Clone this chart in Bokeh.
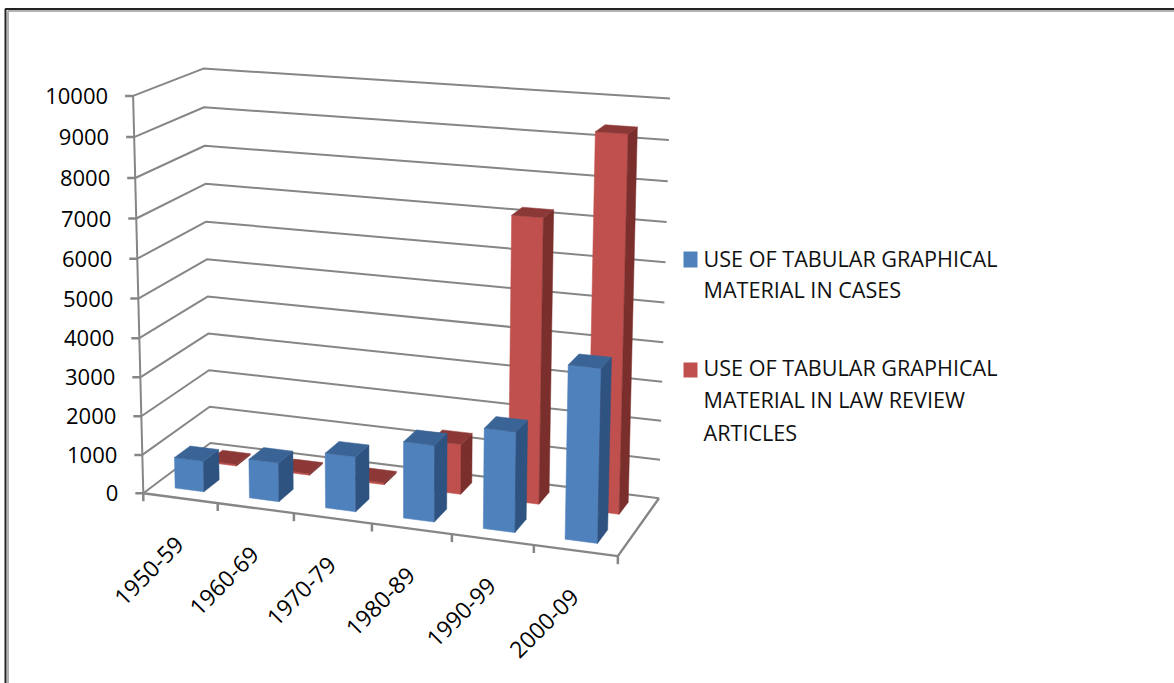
import numpy as np
from bokeh.plotting import figure
from bokeh.models import Range1d
from bokeh.core.properties import value
from bokeh.embed import file_html
from bokeh.resources import INLINE

categories = ["1950-59", "1960-69", "1970-79", "1980-89", "1990-99", "2000-09"]
cases = [800, 1000, 1400, 1930, 2500, 4270]
law_reviews = [40, 40, 50, 1300, 7200, 9370]
value_ticks = [0, 1000, 2000, 3000, 4000, 5000, 6000, 7000, 8000, 9000, 10000]
legend_cases = ["USE OF TABULAR GRAPHICAL", "MATERIAL IN CASES"]
legend_law = ["USE OF TABULAR GRAPHICAL", "MATERIAL IN LAW REVIEW", "ARTICLES"]
VMAX = 10000
FONT = value("Open Sans")

# Camera of the 3-D chart: (category, depth, value) <-> page position
CAL = [
    (0, 0, 0, 143, 492), (6, 0, 0, 617, 556), (0, 1, 0, 210, 443), (6, 1, 0, 658, 498),
    (0, 0, VMAX, 132, 96), (0, 1, VMAX, 203, 68), (6, 1, VMAX, 670, 99),
    (0, 0, 5000, 138, 297), (3, 0, 0, 372, 524), (0, 1, 5000, 206, 259), (6, 1, 5000, 664, 300),
]
rows = []
for c, d, v, x, y in CAL:
    P = [c, d, v / VMAX, 1]
    rows.append(P + [0, 0, 0, 0] + [-x / 1000 * a for a in P])
    rows.append([0, 0, 0, 0] + P + [-y / 1000 * a for a in P])
M = np.linalg.svd(np.array(rows))[2][-1].reshape(3, 4)


def proj(c, d, v):
    h = M @ np.array([c, d, v / VMAX, 1.0])
    return h[0] / h[2] * 1000, h[1] / h[2] * 1000


W, H = 1174, 683
p = figure(width=W, height=H, x_range=Range1d(0, W), y_range=Range1d(H, 0),
           output_backend="svg", toolbar_location=None, min_border=0)
p.axis.visible = False
p.grid.visible = False
p.outline_line_color = None
p.background_fill_color = "white"

GRID = "#868686"


def seg(pts, width=2, color=GRID):
    q = [proj(*a) for a in pts]
    p.line([a[0] for a in q], [a[1] for a in q], line_color=color, line_width=width)


n = len(categories)
for v in value_ticks:
    seg([(0, 0, v), (0, 1, v), (n, 1, v)])
    x, y = proj(0, 0, v)
    p.line([x - 8, x], [y, y], line_color=GRID, line_width=2.5)
    p.text([x - 25], [y], text=[str(v)], text_font=FONT, text_font_size="22px",
           text_align="right", text_baseline="middle", text_color="#000000")
seg([(0, 0, 0), (0, 0, VMAX)])
seg([(0, 0, 0), (n, 0, 0), (n, 1, 0)], width=2.4)
for i in range(n + 1):
    x, y = proj(i, 0, 0)
    p.line([x, x], [y, y + 8], line_color=GRID, line_width=2.5)


def bars(vals, d0, d1, front, side, top, c0=0.29, c1=0.68):
    xs, ys, cols = [], [], []
    for i, v in enumerate(vals):
        a, b = i + c0, i + c1
        faces = [
            ([(a, d0, 0), (b, d0, 0), (b, d0, v), (a, d0, v)], front),
            ([(b, d0, 0), (b, d1, 0), (b, d1, v), (b, d0, v)], side),
            ([(a, d0, v), (b, d0, v), (b, d1, v), (a, d1, v)], top),
        ]
        for pts, col in faces:
            q = [proj(*t) for t in pts]
            xs.append([t[0] for t in q])
            ys.append([t[1] for t in q])
            cols.append(col)
    p.patches(xs, ys, fill_color=cols, line_color=cols, line_width=0.5)


bars(law_reviews, 0.65, 0.87, "#C0504D", "#7A2F2D", "#8C3836")
bars(cases, 0.15, 0.38, "#4F81BD", "#2F5380", "#3A6496")

for i, c in enumerate(categories):
    x, y = proj(i + 0.5, 0, 0)
    p.text([x - 1], [y + 42], text=[c], angle=np.pi / 4, text_font=FONT, text_font_size="23px",
           text_align="right", text_baseline="middle", text_color="#000000")

# legend
p.quad(left=[683, 683], right=[697, 697], top=[251, 362], bottom=[267, 377],
       fill_color=["#4F81BD", "#C0504D"], line_color=None)
for lines, ys in ((legend_cases, [258, 289]), (legend_law, [367, 399, 432])):
    for s, y in zip(lines, ys):
        p.text([703], [y], text=[s], text_font=FONT, text_font_size="21.6px",
               text_align="left", text_baseline="middle", text_color="#111111")

# picture frame
p.line([7.5, 7.5, W], [H, 10.5, 10.5], line_color="#9a9a9a", line_width=1.5)
p.line([5, 5, W], [H, 8.5, 8.5], line_color="#222222", line_width=2)

open("out.html", "w").write(file_html(p, INLINE))
